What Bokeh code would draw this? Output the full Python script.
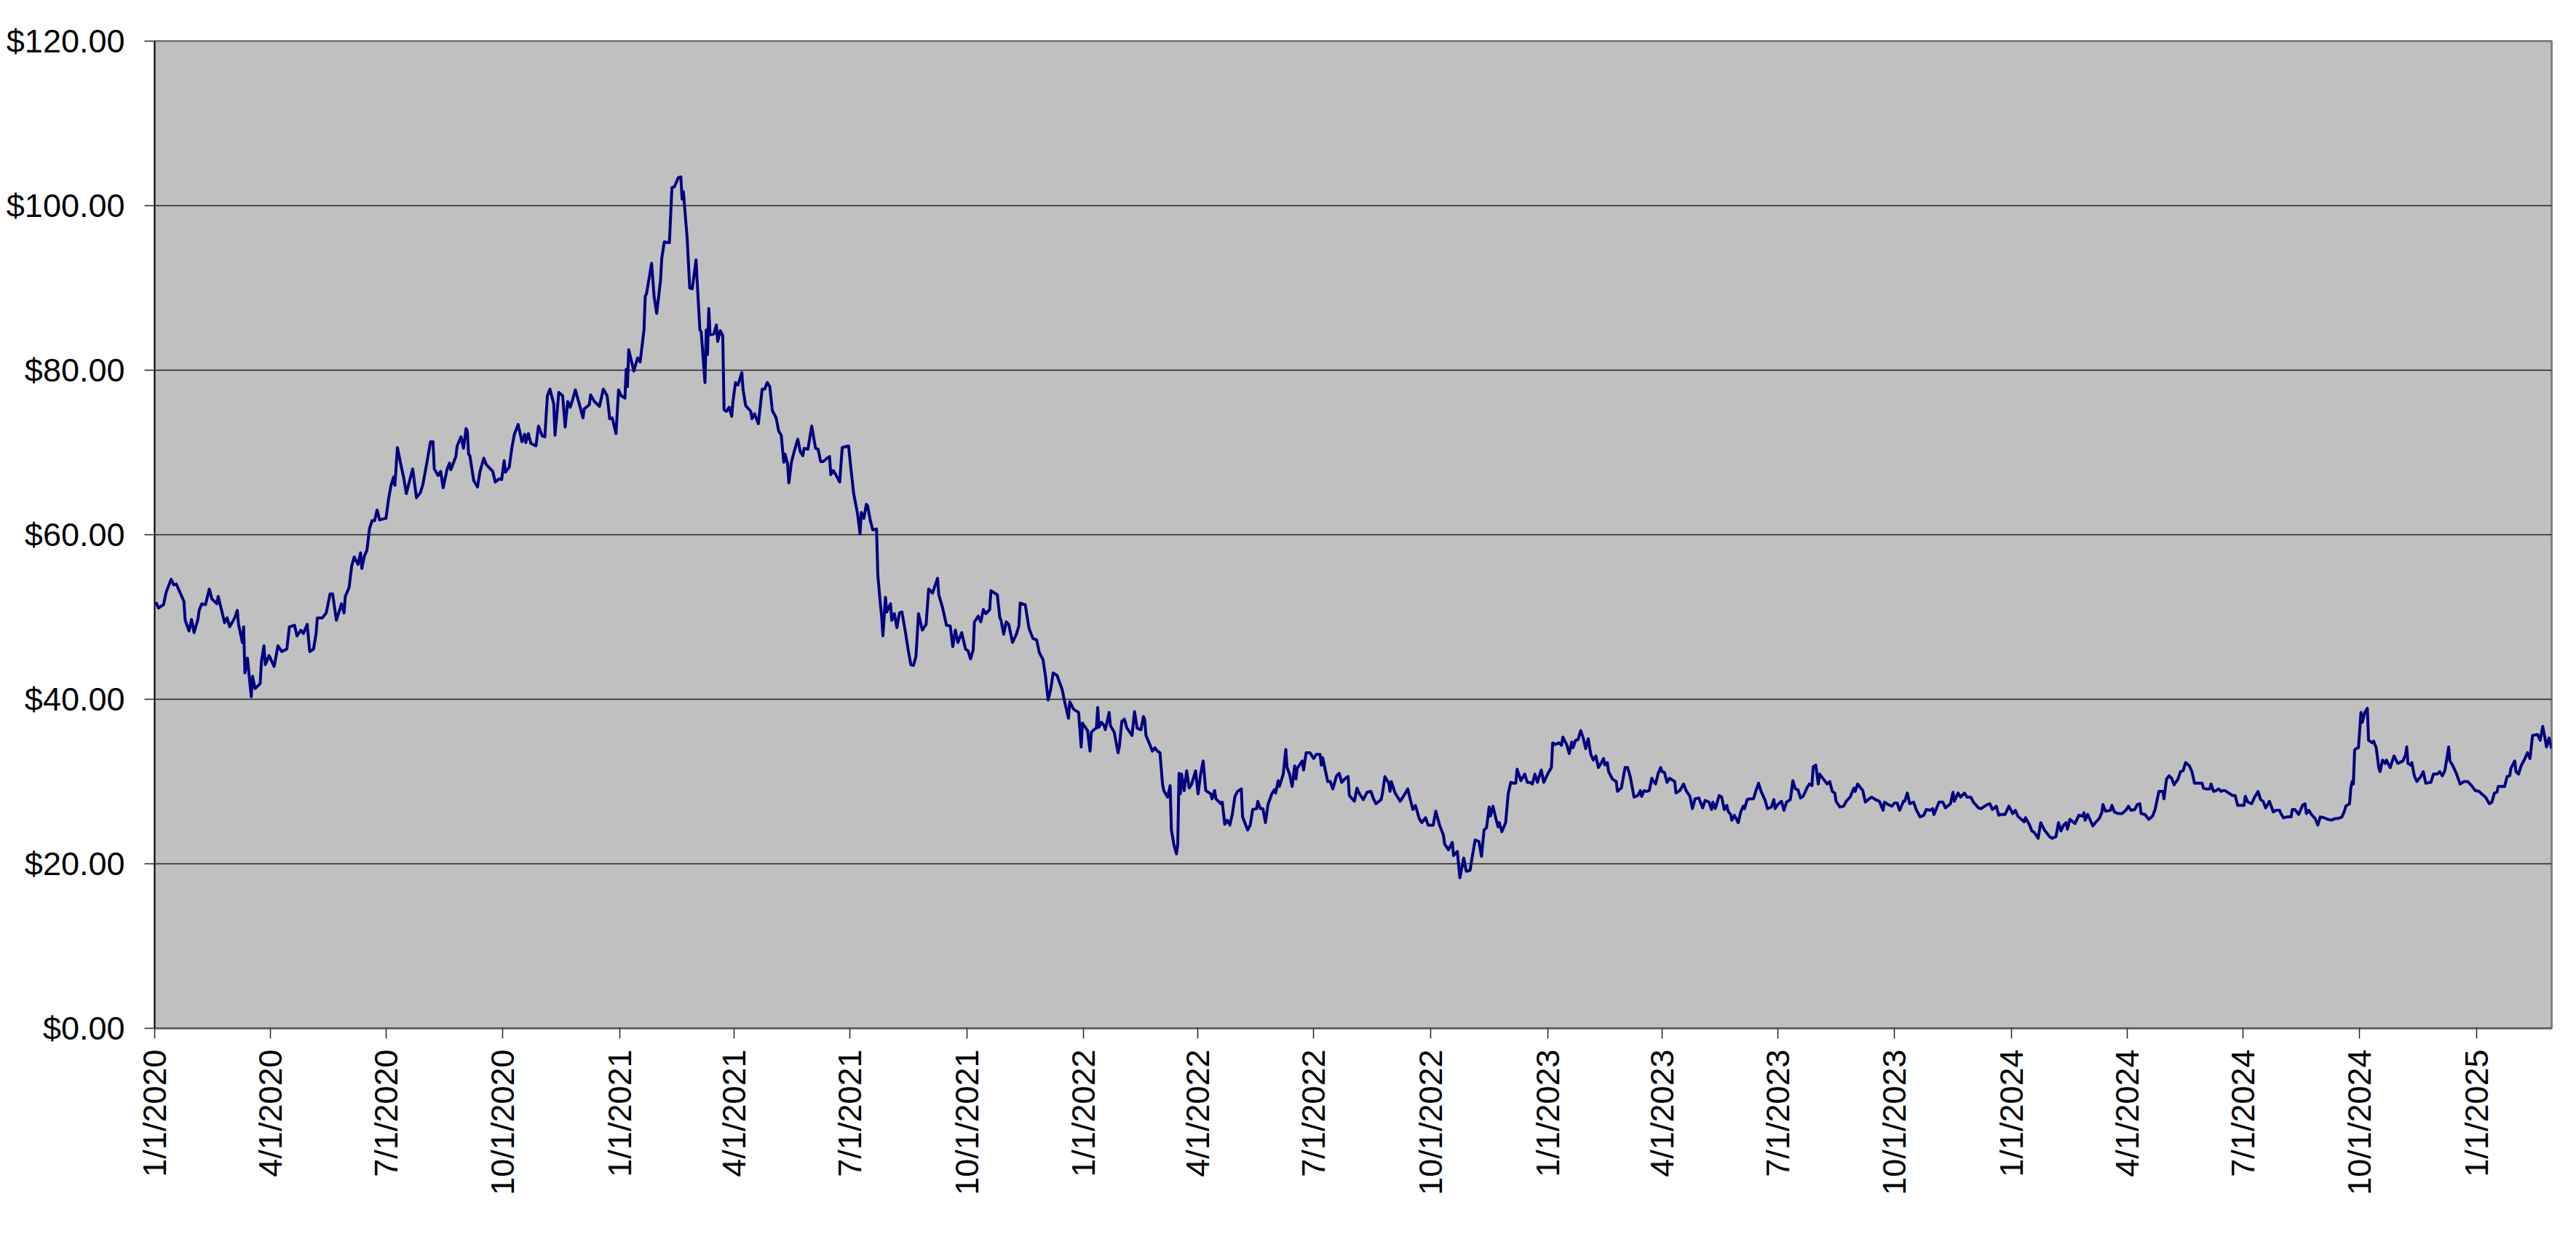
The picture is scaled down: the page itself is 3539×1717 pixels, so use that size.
import numpy as np
import pandas as pd
from bokeh.plotting import figure
from bokeh.models import Range1d, FixedTicker, CustomJSTickFormatter, NumeralTickFormatter
from bokeh.embed import file_html
from bokeh.resources import INLINE

START = "2020-01-01"
END = "2025-03-01"

# (days since 1/1/2020, closing price $)
seg_2020 = [
    (1, 51.8), (3, 51.1), (7, 51.5), (9, 53.0), (13, 54.6), (15, 53.9), (17, 54.0), (23, 51.9),
    (24, 49.6), (27, 48.3), (29, 49.7), (31, 48.1), (34, 49.7), (35, 50.8), (37, 51.6), (40, 51.5),
    (43, 53.4), (45, 52.2), (49, 51.6), (50, 52.5), (53, 50.6), (55, 49.3), (57, 49.9), (59, 48.8),
    (63, 49.9), (65, 50.8), (66, 49.1), (69, 46.9), (70, 48.8), (71, 43.2), (73, 45.0), (76, 40.3),
    (77, 42.8), (79, 41.3), (83, 41.9), (84, 44.6), (86, 46.5), (87, 44.2), (90, 45.3), (94, 44.0),
    (97, 46.5), (100, 45.8), (104, 46.1), (106, 48.8), (110, 49.0), (112, 47.7), (115, 48.4), (117, 48.0),
    (120, 49.1), (122, 45.8), (125, 46.1), (127, 48.0), (128, 49.9), (132, 49.9), (135, 50.5), (138, 52.8),
    (140, 52.8), (143, 49.6), (147, 51.6), (149, 50.5), (150, 52.5), (153, 53.6), (155, 56.2), (157, 57.3),
    (160, 56.4), (162, 57.8), (163, 55.9), (165, 57.4), (167, 58.1), (169, 60.7), (171, 61.7), (173, 61.7),
    (175, 63.0), (177, 61.8), (182, 62.0), (184, 64.3), (186, 66.0), (188, 67.0), (189, 66.0), (191, 70.6),
    (194, 68.3), (196, 66.9), (198, 65.0), (203, 68.0), (206, 64.5), (209, 65.1), (211, 66.1), (214, 68.6),
    (217, 71.3), (219, 71.3), (220, 68.0), (223, 67.2), (225, 67.7), (227, 65.7), (230, 67.9), (232, 68.7),
    (233, 67.9), (237, 69.5), (238, 70.8), (241, 71.9), (243, 70.5), (245, 72.9), (246, 72.6), (247, 69.8),
    (248, 69.6), (251, 66.6), (254, 65.8), (256, 67.7), (259, 69.3), (261, 68.5), (266, 67.7), (268, 66.4),
    (271, 66.8), (273, 66.7), (275, 69.0), (276, 67.6), (279, 68.2), (281, 70.5), (283, 72.2), (286, 73.4),
    (289, 71.3), (291, 72.2), (292, 71.2), (294, 72.3), (296, 71.1), (300, 70.8), (302, 73.2), (305, 72.0),
    (307, 71.9), (309, 76.9), (311, 77.7), (314, 75.9), (315, 72.1), (318, 77.3), (321, 76.9), (323, 73.1),
    (325, 76.2), (327, 75.5), (329, 76.5), (331, 77.6), (335, 75.4), (337, 74.2), (338, 75.3), (342, 75.8),
    (343, 77.0), (346, 76.2), (350, 75.6), (353, 77.7), (356, 76.9), (357, 75.6), (358, 74.1),
]

seg_2021 = [
    (360, 74.2), (363, 72.3), (365, 77.6), (367, 76.9), (370, 76.6), (371, 80.1), (372, 78.0), (373, 82.5),
    (377, 79.9), (380, 81.5), (382, 81.0), (385, 84.9), (386, 89.0), (387, 89.3), (391, 93.0), (393, 88.9),
    (395, 86.9), (398, 90.9), (399, 93.6), (401, 95.6), (405, 95.5), (407, 102.2), (409, 102.3), (412, 103.4),
    (414, 103.5), (415, 100.8), (416, 101.7), (419, 96.0), (421, 90.0), (423, 89.9), (426, 93.4), (427, 90.4),
    (429, 84.9), (430, 84.7), (433, 78.5), (434, 84.9), (435, 81.9), (436, 87.5), (437, 84.3), (440, 84.4),
    (442, 85.5), (443, 83.5), (445, 84.8), (447, 84.2), (448, 75.2), (450, 75.0), (452, 75.5), (454, 74.4),
    (455, 76.2), (457, 78.5), (459, 78.2), (462, 79.7), (463, 77.6), (465, 75.7), (469, 75.0), (470, 74.1),
    (472, 74.7), (475, 73.5), (478, 77.7), (480, 77.7), (482, 78.5), (484, 78.0), (486, 75.1), (489, 74.2),
    (491, 72.6), (493, 72.1), (495, 68.8), (496, 69.8), (498, 68.6), (499, 66.3), (501, 68.8), (503, 70.0),
    (506, 71.6), (508, 70.1), (510, 69.6), (511, 70.5), (514, 70.4), (517, 73.2), (520, 70.5), (522, 70.4),
    (524, 68.9), (526, 68.9), (529, 69.3), (531, 69.5), (532, 67.3), (534, 67.8), (537, 67.0), (539, 66.4),
    (541, 70.6), (546, 70.8), (548, 67.8), (550, 65.0), (553, 62.6), (555, 60.1), (556, 62.7), (558, 62.0),
    (560, 63.7), (561, 63.5), (563, 61.8), (565, 60.6), (568, 60.7), (569, 55.1), (571, 51.6), (572, 50.1),
    (573, 47.7), (575, 52.4), (576, 50.6), (579, 51.6), (580, 49.6), (582, 50.4), (584, 48.7), (586, 50.5),
    (588, 50.6), (591, 47.9), (593, 45.9), (595, 44.2), (597, 44.1), (599, 45.2), (601, 50.4), (604, 48.4),
    (607, 49.1), (609, 53.4), (612, 52.9), (616, 54.7), (617, 52.7), (620, 51.1), (623, 49.0), (626, 48.9),
    (628, 46.4), (630, 48.4), (632, 46.9), (635, 48.1), (638, 46.1), (640, 45.9), (642, 44.9), (644, 46.0),
    (645, 49.4), (648, 50.1), (650, 49.4), (652, 50.9), (654, 50.4), (657, 50.9), (658, 53.2), (661, 52.9),
    (663, 52.7), (665, 49.9), (666, 49.6), (668, 47.9), (670, 49.4), (672, 49.1), (675, 46.9), (678, 47.9),
    (680, 48.9), (681, 51.7), (685, 51.5), (688, 48.6), (691, 47.4), (694, 47.2), (696, 45.7), (699, 44.8),
    (701, 42.7), (703, 39.9), (705, 41.2), (707, 43.2), (710, 42.9), (714, 41.2), (716, 39.7), (719, 37.7),
    (720, 39.7), (723, 38.8), (727, 38.4), (729, 34.2), (730, 37.1), (734, 36.2), (736, 33.7), (737, 36.0),
]

seg_2022 = [
    (739, 36.3), (741, 36.5), (742, 39.0), (743, 36.6), (745, 37.2), (747, 36.8), (748, 36.3), (751, 38.4),
    (752, 36.8), (755, 36.0), (758, 33.5), (759, 34.2), (761, 37.3), (763, 37.6), (765, 36.5), (766, 36.3),
    (769, 35.6), (771, 38.5), (773, 36.5), (776, 36.3), (778, 37.9), (779, 37.5), (780, 35.6), (783, 34.5),
    (785, 33.7), (787, 34.1), (789, 33.7), (791, 33.5), (793, 29.7), (794, 28.9), (797, 28.1), (799, 29.5),
    (800, 24.1), (802, 22.3), (804, 21.2), (805, 22.4), (806, 31.0), (807, 28.5), (808, 30.9), (810, 28.9),
    (812, 31.3), (814, 29.2), (816, 29.7), (819, 31.3), (821, 28.5), (823, 30.9), (825, 32.5), (827, 28.9),
    (831, 28.5), (832, 27.9), (834, 28.9), (835, 27.9), (839, 27.3), (840, 27.5), (842, 24.8), (844, 25.3),
    (846, 24.7), (848, 26.1), (850, 28.2), (852, 28.8), (855, 29.1), (856, 25.7), (860, 24.1), (862, 24.7),
    (864, 26.6), (867, 26.7), (868, 27.6), (870, 26.7), (872, 26.7), (874, 25.0), (876, 27.2), (879, 28.5),
    (881, 29.0), (882, 28.6), (884, 30.1), (885, 29.4), (888, 30.9), (890, 33.9), (891, 31.7), (893, 30.9),
    (895, 29.4), (897, 31.9), (898, 30.3), (899, 31.6), (903, 32.5), (904, 31.4), (906, 33.5), (909, 33.5),
    (912, 32.8), (914, 33.3), (917, 33.3), (918, 32.0), (919, 32.9), (923, 30.0), (925, 30.0), (927, 29.1),
    (930, 30.7), (932, 31.0), (934, 29.9), (937, 30.4), (939, 30.6), (940, 28.3), (944, 27.6), (946, 29.2),
    (948, 28.5), (951, 27.8), (954, 28.7), (957, 28.8), (959, 27.9), (961, 27.3), (965, 27.8), (966, 28.5),
    (968, 30.6), (971, 29.8), (972, 28.8), (973, 30.0), (976, 28.6), (980, 27.6), (983, 28.3), (986, 29.1),
    (988, 27.8), (990, 26.6), (992, 27.1), (995, 25.5), (997, 25.0), (1000, 25.6), (1002, 24.7), (1006, 24.7),
    (1008, 26.4), (1011, 24.7), (1014, 23.5), (1015, 22.4), (1018, 21.7), (1021, 22.6), (1022, 21.0), (1025, 21.5),
    (1027, 18.3), (1030, 20.7), (1032, 19.1), (1035, 19.2), (1036, 20.2), (1039, 22.9), (1042, 22.7), (1044, 20.9),
    (1046, 24.1), (1048, 24.4), (1050, 26.9), (1051, 25.8), (1053, 27.0), (1055, 25.7), (1057, 24.5), (1058, 25.0),
    (1060, 23.9), (1063, 25.0), (1065, 28.5), (1067, 29.9), (1069, 29.8), (1071, 29.8), (1072, 31.5), (1075, 30.1),
    (1078, 30.9), (1080, 29.9), (1082, 29.9), (1084, 29.7), (1086, 30.9), (1088, 29.9), (1091, 31.4), (1093, 29.9),
    (1096, 30.9), (1099, 31.7), (1100, 34.7), (1102, 34.5), (1105, 34.7), (1107, 34.4), (1108, 35.4), (1111, 34.5),
    (1113, 33.4), (1115, 34.8),
]

seg_2023 = [
    (1116, 34.1), (1118, 35.0), (1120, 35.1), (1122, 36.2), (1124, 35.3), (1126, 34.0), (1128, 35.2), (1130, 33.3),
    (1132, 32.6), (1134, 33.1), (1136, 31.7), (1138, 32.2), (1140, 32.8), (1141, 32.0), (1143, 32.3), (1144, 31.2),
    (1147, 30.3), (1150, 30.0), (1151, 28.8), (1153, 29.1), (1154, 29.2), (1157, 31.7), (1159, 31.7), (1161, 30.6),
    (1164, 28.1), (1167, 28.3), (1169, 28.9), (1170, 28.2), (1172, 28.9), (1174, 28.8), (1176, 28.9), (1178, 30.4),
    (1179, 30.1), (1181, 29.7), (1183, 31.0), (1185, 31.7), (1186, 31.2), (1188, 31.1), (1190, 29.9), (1192, 30.4),
    (1196, 30.0), (1197, 28.6), (1200, 28.9), (1203, 29.7), (1205, 28.9), (1208, 28.2), (1210, 26.7), (1212, 27.9),
    (1215, 28.0), (1218, 26.8), (1220, 27.7), (1223, 27.5), (1225, 26.6), (1226, 27.5), (1228, 26.7), (1231, 28.3),
    (1233, 28.1), (1235, 26.6), (1237, 27.1), (1238, 26.4), (1240, 26.0), (1241, 25.3), (1243, 25.9), (1246, 25.0),
    (1248, 26.3), (1250, 27.0), (1251, 26.7), (1253, 27.8), (1255, 27.9), (1258, 27.9), (1260, 28.9), (1262, 29.8),
    (1264, 28.8), (1267, 27.8), (1269, 26.7), (1272, 26.9), (1274, 27.8), (1275, 26.7), (1277, 27.2), (1280, 27.6),
    (1282, 26.5), (1284, 27.5), (1287, 27.8), (1289, 30.1), (1291, 29.1), (1293, 29.0), (1295, 28.0), (1297, 28.2),
    (1300, 29.2), (1302, 29.7), (1304, 29.5), (1305, 31.8), (1307, 32.0), (1309, 29.7), (1310, 30.9), (1313, 30.3),
    (1316, 29.7), (1318, 30.0), (1320, 28.8), (1322, 28.6), (1323, 27.6), (1326, 26.9), (1329, 27.0), (1331, 27.6),
    (1334, 28.1), (1337, 29.2), (1338, 28.8), (1340, 29.7), (1343, 29.1), (1344, 28.9), (1346, 27.5), (1349, 27.9),
    (1351, 28.1), (1354, 27.8), (1357, 27.6), (1360, 26.5), (1361, 27.5), (1364, 27.2), (1367, 27.0), (1369, 27.4),
    (1371, 27.4), (1373, 26.5), (1376, 27.6), (1377, 27.6), (1379, 28.6), (1381, 27.3), (1384, 27.5), (1386, 26.6),
    (1389, 25.7), (1392, 25.9), (1394, 26.6), (1397, 26.5), (1399, 26.7), (1400, 26.0), (1404, 27.5), (1407, 27.5),
    (1409, 26.8), (1413, 27.3), (1415, 28.7), (1416, 27.6), (1419, 28.6), (1421, 28.1), (1424, 28.6), (1426, 28.1),
    (1429, 28.1), (1431, 27.5), (1435, 26.8), (1437, 26.7), (1440, 27.0), (1442, 27.2), (1444, 27.3), (1446, 26.6),
    (1449, 27.0), (1451, 25.9), (1453, 26.0), (1456, 26.0), (1459, 27.0), (1462, 26.1), (1464, 26.5), (1466, 25.8),
    (1468, 25.5), (1471, 25.1), (1472, 25.6), (1475, 24.8), (1477, 24.0), (1479, 23.8), (1482, 23.1), (1484, 25.0),
    (1487, 24.1), (1490, 23.5), (1491, 23.3), (1493, 23.1),
]

seg_2024 = [
    (1496, 23.3), (1498, 25.0), (1500, 24.0), (1502, 24.7), (1504, 25.0), (1505, 24.2), (1507, 25.4), (1511, 24.9),
    (1514, 25.9), (1517, 25.8), (1518, 26.2), (1519, 25.3), (1521, 26.0), (1525, 24.6), (1527, 25.0), (1530, 25.5),
    (1532, 26.2), (1533, 27.2), (1535, 26.4), (1539, 26.5), (1540, 27.1), (1542, 26.3), (1545, 26.1), (1548, 26.1),
    (1551, 26.5), (1553, 27.0), (1555, 26.5), (1558, 26.6), (1560, 27.2), (1562, 27.3), (1563, 26.1), (1566, 26.0),
    (1569, 25.4), (1572, 25.8), (1574, 26.6), (1577, 28.8), (1580, 28.8), (1581, 27.9), (1583, 30.3), (1585, 30.7),
    (1587, 30.4), (1589, 29.6), (1592, 30.3), (1594, 31.2), (1596, 31.3), (1598, 32.3), (1601, 31.9), (1603, 31.2),
    (1605, 29.8), (1608, 29.8), (1611, 29.8), (1612, 29.2), (1614, 29.1), (1617, 29.1), (1618, 29.7), (1620, 28.8),
    (1622, 28.9), (1624, 29.1), (1626, 28.8), (1627, 28.9), (1629, 28.9), (1632, 28.6), (1635, 28.3), (1637, 28.3),
    (1639, 27.1), (1644, 27.1), (1645, 28.2), (1647, 27.5), (1650, 27.3), (1652, 28.0), (1655, 28.8), (1657, 27.8),
    (1659, 27.6), (1661, 26.8), (1664, 27.6), (1667, 26.3), (1669, 26.5), (1672, 26.5), (1673, 26.1), (1675, 25.6),
    (1678, 25.7), (1681, 25.7), (1682, 26.6), (1684, 26.6), (1687, 26.0), (1690, 27.1), (1692, 27.3), (1693, 26.1),
    (1695, 26.5), (1697, 26.0), (1700, 25.5), (1702, 24.7), (1704, 25.7), (1707, 25.6), (1710, 25.4), (1713, 25.3),
    (1714, 25.4), (1716, 25.5), (1718, 25.5), (1721, 25.7), (1723, 26.4), (1724, 27.0), (1727, 27.3), (1728, 29.2),
    (1729, 30.0), (1730, 29.7), (1731, 33.8), (1732, 34.0), (1734, 34.1), (1736, 38.4), (1737, 37.2), (1739, 38.4),
    (1741, 38.9), (1742, 35.0), (1745, 34.7), (1746, 34.9), (1748, 34.1), (1750, 31.7), (1751, 31.2), (1753, 32.6),
    (1755, 32.2), (1756, 32.6), (1759, 31.7), (1762, 33.1), (1765, 32.2), (1769, 32.5), (1771, 33.2), (1772, 34.2),
    (1773, 32.2), (1775, 32.0), (1776, 32.3), (1778, 30.7), (1780, 30.0), (1783, 30.6), (1785, 31.2), (1787, 29.8),
    (1791, 29.9), (1793, 30.9), (1796, 30.9), (1798, 31.2), (1800, 30.7), (1802, 31.3), (1805, 34.2), (1806, 32.5),
    (1808, 32.0), (1811, 31.0), (1814, 29.7), (1817, 30.0), (1820, 30.0), (1823, 29.5), (1826, 28.9),
]

seg_2025 = [
    (1829, 28.8), (1831, 28.5), (1834, 28.1), (1837, 27.3), (1839, 27.5), (1841, 28.6), (1843, 28.7), (1844, 29.4),
    (1847, 29.4), (1849, 29.4), (1851, 30.6), (1853, 30.7), (1854, 31.6), (1857, 32.5), (1858, 31.2), (1860, 30.9),
    (1862, 31.9), (1865, 32.8), (1867, 33.5), (1869, 32.8), (1871, 35.6), (1874, 35.7), (1875, 35.7), (1877, 35.0),
    (1879, 36.7), (1881, 35.1), (1882, 34.2), (1884, 35.3), (1886, 34.0),
]

tick_dates = [
    "2020-01-01", "2020-04-01", "2020-07-01", "2020-10-01",
    "2021-01-01", "2021-04-01", "2021-07-01", "2021-10-01",
    "2022-01-01", "2022-04-01", "2022-07-01", "2022-10-01",
    "2023-01-01", "2023-04-01", "2023-07-01", "2023-10-01",
    "2024-01-01", "2024-04-01", "2024-07-01", "2024-10-01",
    "2025-01-01",
]
y_ticks = [0, 20, 40, 60, 80, 100, 120]

pairs = seg_2020 + seg_2021 + seg_2022 + seg_2023 + seg_2024 + seg_2025
days = [d for d, _ in pairs]
prices = [v for _, v in pairs]
dates = pd.Timestamp(START) + pd.to_timedelta(days, unit="D")

p = figure(
    width=3523, height=1701,
    x_axis_type="datetime",
    x_range=Range1d(pd.Timestamp(START), pd.Timestamp(END)),
    y_range=Range1d(0, 120),
    output_backend="svg", toolbar_location=None,
    min_border_left=212, min_border_right=18, min_border_top=56, min_border_bottom=289,
)
p.background_fill_color = "#C0C0C0"
p.border_fill_color = "white"
p.outline_line_color = "#808080"
p.outline_line_width = 3

p.line(dates, prices, line_color="#000080", line_width=4, line_join="round")

tick_ms = [pd.Timestamp(t).value / 1e6 for t in tick_dates]
p.xaxis.ticker = FixedTicker(ticks=tick_ms)
p.xaxis.formatter = CustomJSTickFormatter(code="""
const d = new Date(tick);
return (d.getUTCMonth() + 1) + '/' + d.getUTCDate() + '/' + d.getUTCFullYear();
""")
p.yaxis.ticker = FixedTicker(ticks=y_ticks)
p.yaxis.formatter = NumeralTickFormatter(format="$0.00")

for ax in (p.xaxis[0], p.yaxis[0]):
    ax.major_label_text_font = "Liberation Sans"
    ax.major_label_text_font_size = "45px"
    ax.major_label_text_color = "black"
    ax.major_tick_in = 0
    ax.major_tick_out = 14
    ax.minor_tick_line_color = None
    ax.major_tick_line_color = "#222222"
    ax.major_tick_line_width = 1.5

p.xaxis.major_label_orientation = np.pi / 2
p.xaxis.major_label_standoff = 15
p.xaxis.axis_line_color = "#666666"
p.xaxis.axis_line_width = 3
p.yaxis.major_label_standoff = 27
p.yaxis.axis_line_color = "black"
p.yaxis.axis_line_width = 1.5

p.xgrid.grid_line_color = None
p.ygrid.grid_line_color = "#222222"
p.ygrid.grid_line_width = 1.5

open("out.html", "w").write(file_html(p, INLINE))
